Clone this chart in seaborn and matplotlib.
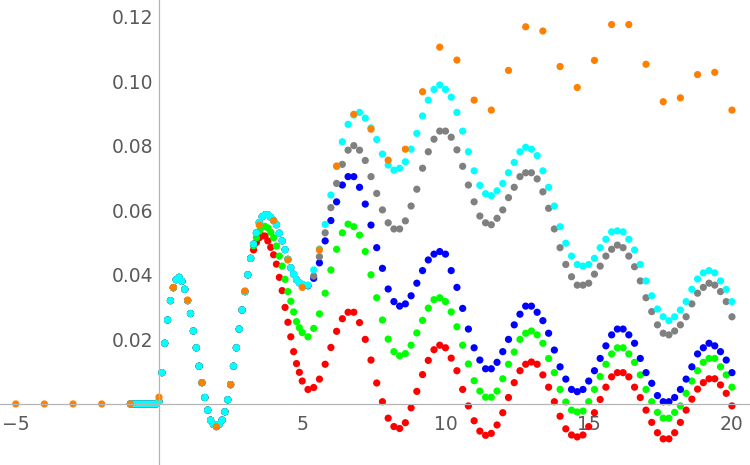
import numpy as np
import pandas as pd
import matplotlib
matplotlib.use('Agg')
import matplotlib.pyplot as plt
import seaborn as sns
from matplotlib.ticker import FixedLocator, MultipleLocator

# sampling grids: dense up to x=5, coarser after
x_shared = np.linspace(-1.0, 3.2, 43)
x_mid = np.linspace(3.3, 5.0, 18)
x_tail = np.linspace(5.2, 20.0, 75)

# all five dense series sit on top of each other up to x ~ 3.2
shared_y = [0, 0, 0, 0, 0, 0, 0, 0, 0, 0,
            0.0008, 0.0097, 0.0188, 0.0260, 0.0320, 0.0360, 0.0385, 0.0392, 0.0380, 0.0355,
            0.0320, 0.0280, 0.0226, 0.0174, 0.0117, 0.0066, 0.0020, -0.0019, -0.0050, -0.0063,
            -0.0070, -0.0063, -0.0050, -0.0024, 0.0013, 0.0060, 0.0117, 0.0174, 0.0232, 0.0291,
            0.0348, 0.0400, 0.0451]

red_mid = [0.0477, 0.0500, 0.0515, 0.0521, 0.0520, 0.0505, 0.0485, 0.0462, 0.0433, 0.0392,
           0.0351, 0.0299, 0.0253, 0.0208, 0.0162, 0.0125, 0.0098, 0.0071]
green_mid = [0.0490, 0.0515, 0.0535, 0.0548, 0.0550, 0.0545, 0.0532, 0.0515, 0.0489, 0.0458,
             0.0427, 0.0386, 0.0348, 0.0318, 0.0285, 0.0255, 0.0236, 0.0221]
# blue, gray and cyan still coincide here
cyan_mid = [0.0495, 0.0530, 0.0562, 0.0580, 0.0586, 0.0586, 0.0578, 0.0568, 0.0555, 0.0529,
            0.0505, 0.0478, 0.0448, 0.0422, 0.0402, 0.0385, 0.0375, 0.0370]

red_tail = [0.0045, 0.0051, 0.0077, 0.0123, 0.0175, 0.0225, 0.0264, 0.0284, 0.0284, 0.0252,
            0.0200, 0.0136, 0.0065, 0.0007, -0.0044, -0.0070, -0.0076, -0.0058, -0.0012, 0.0039,
            0.0091, 0.0135, 0.0168, 0.0182, 0.0174, 0.0142, 0.0103, 0.0045, -0.0006, -0.0052,
            -0.0084, -0.0097, -0.0091, -0.0065, -0.0027, 0.0020, 0.0066, 0.0103, 0.0123, 0.0130,
            0.0123, 0.0090, 0.0052, 0.0007, -0.0038, -0.0077, -0.0096, -0.0102, -0.0096, -0.0070,
            -0.0027, 0.0014, 0.0052, 0.0084, 0.0097, 0.0097, 0.0084, 0.0052, 0.0020, -0.0019,
            -0.0057, -0.0089, -0.0108, -0.0108, -0.0089, -0.0057, -0.0019, 0.0015, 0.0046, 0.0066,
            0.0078, 0.0078, 0.0059, 0.0033, -0.0006]
green_tail = [0.0208, 0.0234, 0.0279, 0.0343, 0.0415, 0.0479, 0.0530, 0.0557, 0.0549, 0.0523,
              0.0472, 0.0400, 0.0329, 0.0260, 0.0201, 0.0162, 0.0149, 0.0156, 0.0182, 0.0220,
              0.0259, 0.0297, 0.0323, 0.0329, 0.0317, 0.0285, 0.0239, 0.0182, 0.0124, 0.0072,
              0.0040, 0.0021, 0.0021, 0.0040, 0.0078, 0.0123, 0.0161, 0.0200, 0.0219, 0.0226,
              0.0214, 0.0188, 0.0141, 0.0097, 0.0045, 0.0006, -0.0019, -0.0025, -0.0022, 0.0007,
              0.0045, 0.0085, 0.0123, 0.0155, 0.0174, 0.0174, 0.0155, 0.0129, 0.0090, 0.0045,
              0.0007, -0.0026, -0.0044, -0.0044, -0.0026, -0.0006, 0.0033, 0.0071, 0.0103, 0.0129,
              0.0141, 0.0141, 0.0115, 0.0090, 0.0052]
blue_tail = [0.0366, 0.0389, 0.0437, 0.0505, 0.0568, 0.0626, 0.0678, 0.0704, 0.0704, 0.0671,
             0.0619, 0.0554, 0.0484, 0.0420, 0.0356, 0.0317, 0.0303, 0.0310, 0.0335, 0.0374,
             0.0413, 0.0446, 0.0464, 0.0472, 0.0464, 0.0413, 0.0361, 0.0296, 0.0232, 0.0174,
             0.0136, 0.0109, 0.0109, 0.0129, 0.0162, 0.0200, 0.0245, 0.0278, 0.0303, 0.0303,
             0.0284, 0.0258, 0.0219, 0.0167, 0.0115, 0.0077, 0.0045, 0.0038, 0.0045, 0.0071,
             0.0103, 0.0141, 0.0180, 0.0214, 0.0232, 0.0232, 0.0214, 0.0188, 0.0141, 0.0097,
             0.0064, 0.0026, 0.0007, 0.0007, 0.0020, 0.0045, 0.0077, 0.0115, 0.0155, 0.0174,
             0.0188, 0.0180, 0.0162, 0.0136, 0.0097]
gray_tail = [0.0367, 0.0396, 0.0456, 0.0530, 0.0608, 0.0683, 0.0742, 0.0786, 0.0800, 0.0786,
             0.0754, 0.0704, 0.0652, 0.0601, 0.0561, 0.0542, 0.0542, 0.0567, 0.0613, 0.0665,
             0.0730, 0.0781, 0.0820, 0.0845, 0.0845, 0.0826, 0.0787, 0.0736, 0.0678, 0.0626,
             0.0582, 0.0561, 0.0555, 0.0575, 0.0601, 0.0639, 0.0671, 0.0704, 0.0716, 0.0716,
             0.0697, 0.0657, 0.0606, 0.0542, 0.0484, 0.0432, 0.0394, 0.0368, 0.0368, 0.0374,
             0.0402, 0.0427, 0.0458, 0.0479, 0.0492, 0.0484, 0.0458, 0.0425, 0.0381, 0.0329,
             0.0286, 0.0245, 0.0219, 0.0214, 0.0226, 0.0245, 0.0270, 0.0310, 0.0343, 0.0361,
             0.0374, 0.0368, 0.0348, 0.0317, 0.0270]
cyan_tail = [0.0368, 0.0415, 0.0480, 0.0556, 0.0647, 0.0735, 0.0812, 0.0866, 0.0895, 0.0903,
             0.0885, 0.0855, 0.0819, 0.0774, 0.0740, 0.0724, 0.0730, 0.0750, 0.0789, 0.0838,
             0.0892, 0.0941, 0.0974, 0.0988, 0.0974, 0.0950, 0.0903, 0.0845, 0.0781, 0.0722,
             0.0677, 0.0651, 0.0645, 0.0660, 0.0683, 0.0716, 0.0748, 0.0781, 0.0795, 0.0789,
             0.0769, 0.0722, 0.0671, 0.0613, 0.0549, 0.0498, 0.0458, 0.0432, 0.0427, 0.0432,
             0.0451, 0.0484, 0.0510, 0.0533, 0.0536, 0.0533, 0.0510, 0.0477, 0.0432, 0.0381,
             0.0335, 0.0294, 0.0270, 0.0258, 0.0270, 0.0291, 0.0317, 0.0355, 0.0387, 0.0406,
             0.0413, 0.0406, 0.0381, 0.0355, 0.0317]

orange_x = [-5, -4, -3, -2, -1, 0, 0.5, 1.0, 1.5, 2.0, 2.5, 3.0, 3.5, 4.0, 4.5, 5.0,
            5.6, 6.2, 6.8, 7.4, 8.0, 8.6, 9.2, 9.8, 10.4, 11.0, 11.6, 12.2, 12.8, 13.4,
            14.0, 14.6, 15.2, 15.8, 16.4, 17.0, 17.6, 18.2, 18.8, 19.4, 20.0]
orange_y = [0, 0, 0, 0, 0, 0.0021, 0.0361, 0.0322, 0.0066, -0.0070, 0.0059, 0.0350, 0.0554,
            0.0568, 0.0446, 0.0361, 0.0477, 0.0737, 0.0897, 0.0851, 0.0755, 0.0789, 0.0967,
            0.1105, 0.1065, 0.0941, 0.0910, 0.1033, 0.1168, 0.1155, 0.1045, 0.0980, 0.1064,
            0.1175, 0.1175, 0.1052, 0.0936, 0.0948, 0.1020, 0.1027, 0.0910]

colors = {'red': '#ff0000', 'green': '#00ff00', 'blue': '#0000ff',
          'gray': '#808080', 'cyan': '#00ffff', 'orange': '#ff8000'}

# draw order = row order (later series sit on top)
x_full = np.concatenate([x_shared, x_mid, x_tail])
series = {
    'red': shared_y + red_mid + red_tail,
    'green': shared_y + green_mid + green_tail,
    'blue': shared_y + cyan_mid + blue_tail,
    'gray': shared_y + cyan_mid + gray_tail,
    'cyan': shared_y + cyan_mid + cyan_tail,
}
frames = [pd.DataFrame({'x': x_full, 'y': ys, 'series': name}) for name, ys in series.items()]
frames.append(pd.DataFrame({'x': orange_x, 'y': orange_y, 'series': 'orange'}))
df = pd.concat(frames, ignore_index=True)

sns.set_style('white')
plt.rcParams['font.family'] = ['DejaVu Sans']

fig = plt.figure(figsize=(7.5, 4.65), dpi=100)
ax = fig.add_axes([0, 0, 1, 1])
sns.scatterplot(data=df, x='x', y='y', hue='series', palette=colors, s=27,
                linewidth=0, legend=False, ax=ax)

ax.set_xlim(-5.55, 20.63)
ax.set_ylim(-0.0189, 0.1251)
ax.set_xlabel('')
ax.set_ylabel('')

axis_col = '#b5b5b5'
for side in ['top', 'right']:
    ax.spines[side].set_visible(False)
ax.spines['left'].set_position(('data', 0))
ax.spines['bottom'].set_position(('data', 0))
for side in ['left', 'bottom']:
    ax.spines[side].set_color(axis_col)
    ax.spines[side].set_linewidth(0.9)

ax.xaxis.set_major_locator(FixedLocator([-5, 5, 10, 15, 20]))
ax.xaxis.set_minor_locator(MultipleLocator(1))
ax.set_xticklabels(['\u22125', '5', '10', '15', '20'])
ax.yaxis.set_major_locator(FixedLocator([0.02, 0.04, 0.06, 0.08, 0.10, 0.12]))
ax.yaxis.set_minor_locator(MultipleLocator(0.005))
ax.set_yticklabels(['0.02', '0.04', '0.06', '0.08', '0.10', '0.12'])

ax.tick_params(which='both', direction='in', color=axis_col, width=0.8,
               labelcolor='#5a5a5a', labelsize=13.5)
ax.tick_params(which='major', length=6)
ax.tick_params(which='minor', length=3)
ax.tick_params(axis='x', which='both', pad=8)
ax.tick_params(axis='y', which='both', pad=4)

plt.savefig('out.png', dpi=100)
